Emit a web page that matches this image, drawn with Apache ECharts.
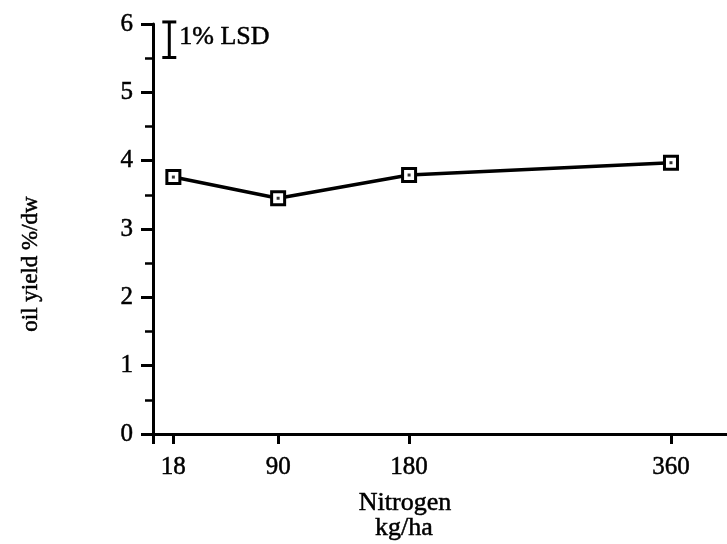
<!DOCTYPE html>
<html>
<head>
<meta charset="utf-8">
<script src="https://cdn.jsdelivr.net/npm/echarts@6/dist/echarts.min.js"></script>
<style>
  html, body { margin: 0; padding: 0; background: #fff; }
  #chart { width: 727px; height: 544px; }
</style>
</head>
<body>
<div id="chart"></div>
<script>
// Nitrogen application rate (kg/ha) and oil yield (% of dry weight)
const nitrogen = [18, 90, 180, 360];
const oilYield = [3.76, 3.45, 3.79, 3.97];

// Tick positions
const xTickLabels = [18, 90, 180, 360];
const yTickLabels = [0, 1, 2, 3, 4, 5, 6];

// Least significant difference bar (1% level)
const lsdValue = 0.52;
const lsdTop = 6.03;
const lsdX = 15.2;
const lsdLabel = '1% LSD';

const xTitle = ['Nitrogen', 'kg/ha'];
const yTitle = 'oil yield %/dw';

const FONT = '"Liberation Serif", "Times New Roman", serif';
const INK = '#000';
// slight outline so the serif text carries the same weight as the heavy rules
const inkText = { fill: INK, stroke: INK, lineWidth: 0.5 };

const points = nitrogen.map((n, i) => [n, oilYield[i]]);

const chart = echarts.init(document.getElementById('chart'), null, { renderer: 'canvas' });

chart.setOption({
  backgroundColor: '#fff',
  animation: false,
  grid: { left: 153, right: 0, top: 24, bottom: 110 },
  xAxis: {
    type: 'value',
    min: 4,
    max: 398.5,
    splitLine: { show: false },
    axisLine: { show: true, lineStyle: { color: INK, width: 3 } },
    axisTick: {
      show: true,
      length: 10,
      customValues: [4].concat(xTickLabels),
      lineStyle: { color: INK, width: 3 }
    },
    axisLabel: {
      customValues: xTickLabels,
      color: INK,
      fontFamily: FONT,
      fontSize: 25,
      margin: 21,
      textBorderColor: INK,
      textBorderWidth: 0.5
    }
  },
  yAxis: {
    type: 'value',
    min: 0,
    max: 6,
    interval: 1,
    splitLine: { show: false },
    axisLine: { show: true, lineStyle: { color: INK, width: 3 } },
    axisTick: { show: true, length: 12, lineStyle: { color: INK, width: 3 } },
    minorTick: { show: true, splitNumber: 2, length: 8, lineStyle: { color: INK, width: 2.5 } },
    axisLabel: {
      color: INK,
      fontFamily: FONT,
      fontSize: 25,
      margin: 20,
      textBorderColor: INK,
      textBorderWidth: 0.5,
      formatter: v => (yTickLabels.indexOf(v) >= 0 ? String(v) : '')
    }
  },
  series: [
    {
      type: 'line',
      data: points,
      symbol: 'rect',
      symbolSize: 13,
      lineStyle: { color: INK, width: 3.5 },
      itemStyle: { color: '#fff', borderColor: INK, borderWidth: 3 },
      z: 3
    },
    {
      // center dot of each square marker
      type: 'scatter',
      data: points,
      symbol: 'rect',
      symbolSize: 3,
      itemStyle: { color: INK },
      z: 4
    },
    {
      type: 'custom',
      clip: false,
      data: [[lsdX, lsdTop, lsdTop - lsdValue]],
      renderItem: function (params, api) {
        const top = api.coord([api.value(0), api.value(1)]);
        const bot = api.coord([api.value(0), api.value(2)]);
        const half = 7;
        const style = { stroke: INK, lineWidth: 3 };
        return {
          type: 'group',
          children: [
            { type: 'line', shape: { x1: top[0], y1: top[1], x2: bot[0], y2: bot[1] }, style },
            { type: 'line', shape: { x1: top[0] - half, y1: top[1], x2: top[0] + half, y2: top[1] }, style },
            { type: 'line', shape: { x1: bot[0] - half, y1: bot[1], x2: bot[0] + half, y2: bot[1] }, style },
            {
              type: 'text',
              style: Object.assign({
                text: lsdLabel,
                x: top[0] + 10,
                y: (top[1] + bot[1]) / 2 - 3,
                font: '26px ' + FONT,
                verticalAlign: 'middle',
                align: 'left'
              }, inkText)
            }
          ]
        };
      }
    }
  ],
  graphic: [
    {
      type: 'text',
      x: 405, y: 503,
      style: Object.assign({
        text: xTitle[0],
        font: '26px ' + FONT,
        align: 'center',
        verticalAlign: 'middle'
      }, inkText)
    },
    {
      type: 'text',
      x: 404, y: 528,
      style: Object.assign({
        text: xTitle[1],
        font: '26px ' + FONT,
        align: 'center',
        verticalAlign: 'middle'
      }, inkText)
    },
    {
      type: 'text',
      x: 31, y: 264,
      rotation: Math.PI / 2,
      style: Object.assign({
        text: yTitle,
        font: '23px ' + FONT,
        align: 'center',
        verticalAlign: 'middle'
      }, inkText)
    }
  ]
});
</script>
</body>
</html>
